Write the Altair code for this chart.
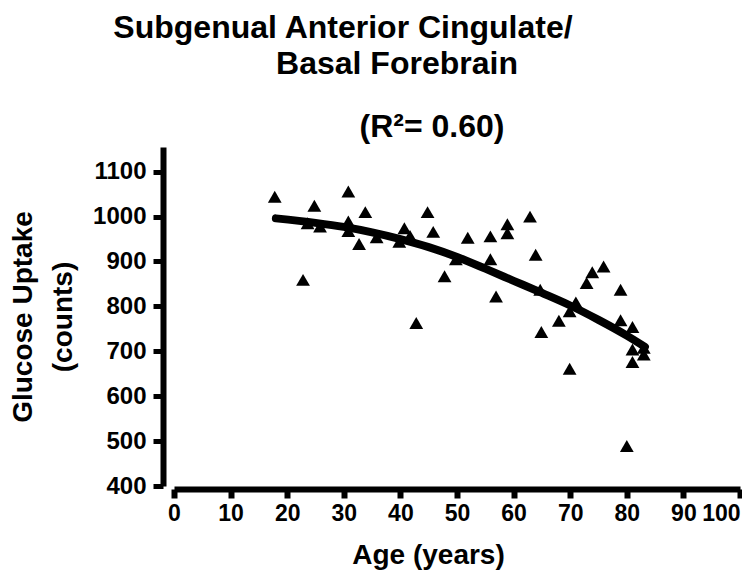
import altair as alt
import pandas as pd

# ---- data ----
ages = [17.8, 30.8, 24.8, 33.8, 44.8, 23.6, 25.8, 30.8, 30.8, 32.7, 35.8, 40.7,
        39.8, 41.7, 45.8, 22.8, 47.8, 42.8, 51.9, 55.9, 58.9, 58.9, 62.9, 49.8,
        55.9, 63.9, 56.9, 64.7, 71.0, 69.9, 68.0, 64.9, 72.9, 73.9, 75.9, 78.9,
        78.9, 81.0, 81.0, 83.0, 83.0, 81.0, 69.9, 80.0]
uptake = [1044, 1056, 1024, 1010, 1010, 985, 978, 989, 968, 939, 954, 974,
          944, 957, 966, 859, 867, 763, 953, 956, 983, 963, 1000, 905,
          905, 915, 822, 837, 809, 789, 768, 743, 852, 876, 889, 837,
          769, 754, 704, 708, 693, 676, 661, 489]

fit_age = [18, 25, 30, 35, 40, 45, 50, 55, 60, 65, 70, 75, 80, 83.2]
fit_val = [996, 986, 977, 965, 950, 932, 910, 884, 857, 830, 802, 770, 735, 710]

x_ticks = [0, 10, 20, 30, 40, 50, 60, 70, 80, 90, 100]
y_ticks = [400, 500, 600, 700, 800, 900, 1000, 1100]

title_lines = ["Subgenual Anterior Cingulate/", "Basal Forebrain", "(R\u00b2= 0.60)"]
x_title = "Age (years)"
y_title = ["Glucose Uptake", "(counts)"]

F = "Liberation Sans"

pts = pd.DataFrame({"age": ages, "uptake": uptake})
fit = pd.DataFrame({"age": fit_age, "uptake": fit_val})

W, H = 566, 339

xscale = alt.Scale(domain=[0, 100], nice=False, zero=False)
yscale = alt.Scale(domain=[400, 1155], nice=False, zero=False)

xaxis = alt.Axis(
    values=x_ticks, title=x_title, grid=False, format="d",
    domainColor="black", domainWidth=6, tickColor="black", tickWidth=6, tickSize=9,
    offset=3, labelFont=F, labelFontSize=23, labelFontWeight="bold", labelColor="black",
    labelPadding=4,
    labelAlign={"condition": {"test": "datum.value == 100", "value": "right"}, "value": "center"},
    titleFont=F, titleFontSize=28, titleFontWeight="bold", titleColor="black",
    titleX=254, titleY=74, titleBaseline="alphabetic", titleAlign="center",
)
yaxis = alt.Axis(
    values=y_ticks, title=y_title, grid=False, format="d",
    domainColor="black", domainWidth=6, tickColor="black", tickWidth=5, tickSize=10,
    offset=11, labelFont=F, labelFontSize=24, labelFontWeight="bold", labelColor="black",
    labelPadding=7,
    titleFont=F, titleFontSize=28, titleFontWeight="bold", titleColor="black",
    titleLineHeight=40, titleAngle=-90, titleBaseline="top", titleAlign="center",
    titleX=-154, titleY=H / 2,
)

points = alt.Chart(pts).mark_point(
    shape="triangle-up", size=190, filled=True, color="black", opacity=1
).encode(
    x=alt.X("age:Q", scale=xscale, axis=xaxis),
    y=alt.Y("uptake:Q", scale=yscale, axis=yaxis),
)

line = alt.Chart(fit).mark_line(
    color="black", strokeWidth=8, strokeCap="round", interpolate="monotone"
).encode(
    x=alt.X("age:Q", scale=xscale),
    y=alt.Y("uptake:Q", scale=yscale),
)


def label(text, x, y):
    return alt.Chart(alt.Data(values=[{}])).mark_text(
        text=text, font=F, fontSize=32, fontWeight="bold", color="black",
        align="center", baseline="alphabetic"
    ).encode(x=alt.value(x), y=alt.value(y))


t1 = label(title_lines[0], 169, -109)
t2 = label(title_lines[1], 223, -73)
t3 = label(title_lines[2], 258, -10)

chart = alt.layer(points, line, t1, t2, t3).properties(
    width=W, height=H,
    autosize=alt.AutoSizeParams(type="none"),
    padding={"left": 166, "top": 139, "right": 2, "bottom": 86},
).configure_view(strokeWidth=0)

chart.save("out.html", embed_options={"renderer": "svg", "actions": False})
